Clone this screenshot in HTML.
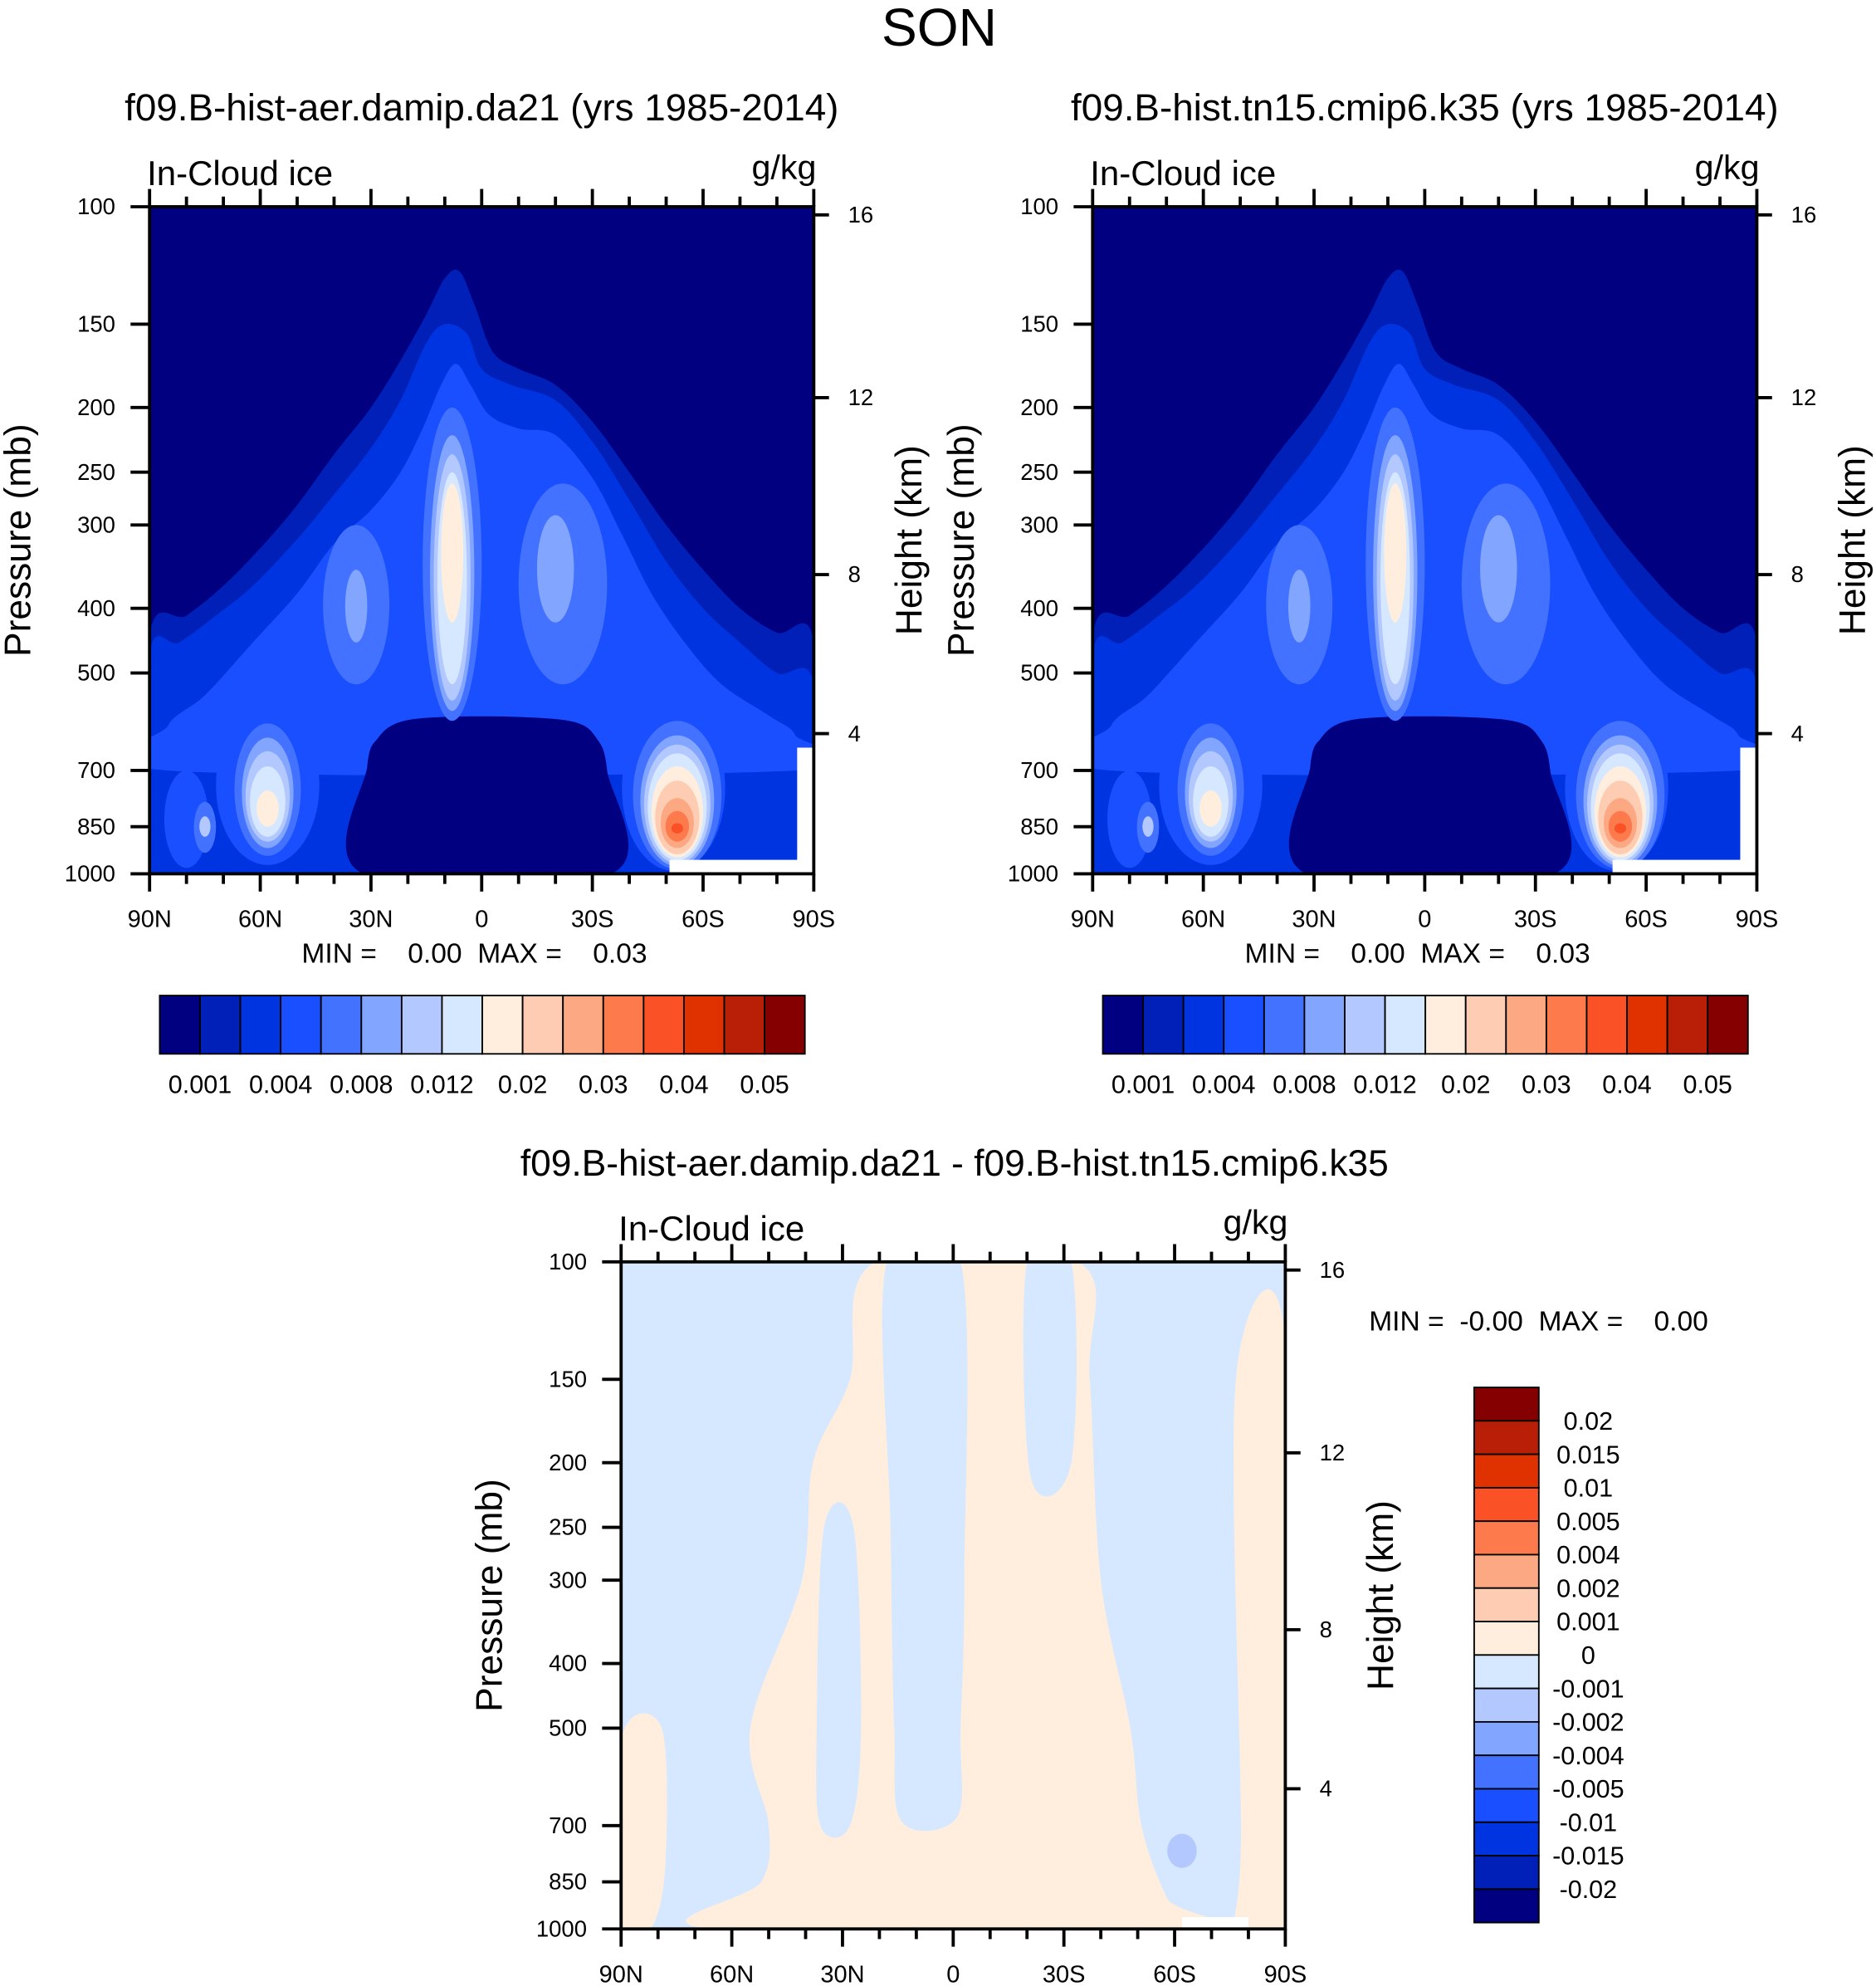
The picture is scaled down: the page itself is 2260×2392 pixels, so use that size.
<!DOCTYPE html>
<html><head><meta charset="utf-8"><style>
html,body{margin:0;padding:0;background:#fff}
svg{display:block}
text{font-family:"Liberation Sans",Arial,sans-serif;fill:#000;white-space:pre}
</style></head><body>
<svg id="root" width="2260" height="2392" viewBox="0 0 1480 1566" preserveAspectRatio="none" xmlns="http://www.w3.org/2000/svg">
<text x="741" y="36" font-size="42" text-anchor="middle">SON</text>
</svg>
<script>
// ===== data =====
const colors=["#000080","#0020b8","#0034e0","#1a4fff","#4272ff","#82a6ff","#b2c8ff","#d6e8ff","#ffeedd","#fdccb2","#fca882","#fc7a4c","#fa5226","#e03200","#b81f06","#850000"];
const pressureTicks=[100,150,200,250,300,400,500,700,850,1000];
const heightTicks=[4,8,12,16];
const latTicks=[90,60,30,0,-30,-60,-90];
const latLabels=["90N","60N","30N","0","30S","60S","90S"];
const topBarLabels=["0.001","0.004","0.008","0.012","0.02","0.03","0.04","0.05"];
const diffBarLabels=["0.02","0.015","0.01","0.005","0.004","0.002","0.001","0","-0.001","-0.002","-0.004","-0.005","-0.01","-0.015","-0.02"];
// contour polygons: [lat,p]
const polyLevel1=[[90,440],[80,410],[70,370],[60,325],[50,280],[40,235],[30,200],[22,170],[15,145],[10,128],[6,125],[2,140],[-3,165],[-10,175],[-20,185],[-30,210],[-40,250],[-50,300],[-60,350],[-70,400],[-80,435],[-90,450],[-90,1000],[90,1000]];
const polyLevel2=[[90,470],[82,450],[72,410],[62,370],[50,315],[40,270],[30,230],[22,195],[15,160],[10,150],[4,155],[0,175],[-8,185],[-20,195],[-30,225],[-40,275],[-50,340],[-60,400],[-70,450],[-80,500],[-90,520],[-90,1000],[90,1000]];
const polyLevel3=[[85,600],[75,540],[62,450],[50,380],[40,320],[30,285],[22,250],[16,215],[11,185],[7,172],[3,185],[-2,205],[-10,215],[-20,220],[-30,255],[-38,310],[-46,380],[-55,450],[-65,520],[-78,580],[-85,620],[-85,700],[85,700]];
const polyHole=[[32,1000],[31,690],[28,625],[22,592],[10,582],[-10,582],[-25,592],[-31,625],[-34,700],[-35,1000]];
// ellipse blobs: [level, lat, halfWidthDeg, pTop, pBottom]
const blobsA=[
 [3,58,14,560,970],[3,-52,14,560,990],[3,80,6,700,980],
 [4,34,9,300,520],[4,8,8,200,590],[4,-22,12,260,520],[4,58,9,595,940],[4,-53,12,590,985],[4,75,3,780,930],
 [5,8,6,220,570],[5,58,7,625,915],[5,-53,10,620,975],[5,-20,5,290,420],[5,34,3,350,450],[6,75,1.5,820,880],
 [6,8,5,235,550],[6,58,6,655,895],[6,-53,9,640,965],
 [7,8,4,250,520],[7,58,4.8,690,880],[7,-53,8,660,955],
 [8,8,3,260,420],[8,58,3,750,850],[8,-53,7,690,945],
 [9,-53,6,725,935],[10,-53,4.5,770,915],[11,-53,3.2,805,895],[12,-53,1.6,840,870]];
// bottom difference panel regions
const diffCream=[[21,100],[-33.7,100],[-37,150],[-40,300],[-48,500],[-51,700],[-58,900],[-64.6,1000],[66,1000],[52,850],[50,700],[55,500],[41,300],[38,200],[28,150]];
const diffBlue=[[[18,100],[-2,100],[-3,300],[-2,500],[-1,680],[14,690],[16,500],[17,250]],[[-20,100],[-32,100],[-32,200],[-21,210]],[[35,250],[27,250],[25,500],[28,700],[36,700],[37,500]]];
const diffCream2=[[[90,520],[79,500],[78,800],[82,1000],[90,1000]],[[-76.6,150],[-90,130],[-90,1000],[-77,1000],[-78,700]]];
const diffBlob=[[6,-62,4,720,810]];

const NS="http://www.w3.org/2000/svg";
const root=document.getElementById('root');
function mk(tag,attrs,parent){const e=document.createElementNS(NS,tag);for(const k in attrs)e.setAttribute(k,attrs[k]);(parent||root).appendChild(e);return e;}
function txt(s,x,y,size,anchor,parent){const t=mk('text',{x:x,y:y,'font-size':size,'text-anchor':anchor||'start'},parent);t.textContent=s;return t;}
function stdP(hkm){const h=hkm*1000;if(h<=11000)return 1013.25*Math.pow(1-2.25577e-5*h,5.25588);return 226.32*Math.exp(-0.0001577*(h-11000));}
function smooth(pts){let d='';const n=pts.length;for(let i=0;i<n;i++){const p0=pts[(i-1+n)%n],p1=pts[i],p2=pts[(i+1)%n],p3=pts[(i+2)%n];if(i===0)d+='M'+p1[0]+','+p1[1];const c1=[p1[0]+(p2[0]-p0[0])/6,p1[1]+(p2[1]-p0[1])/6],c2=[p2[0]-(p3[0]-p1[0])/6,p2[1]-(p3[1]-p1[1])/6];d+='C'+c1+' '+c2+' '+p2;}return d+'Z';}

function panel(ox,oy,id,opts){
 const W=524,H=526;
 const X=lat=>ox+(90-lat)/180*W;
 const Y=p=>oy+Math.log10(p/100)*H;
 const g=mk('g',{});
 
 
 const cp=mk('clipPath',{id:'clip-'+id},g);mk('rect',{x:ox,y:oy,width:W,height:H},cp);
 const plot=mk('g',{'clip-path':'url(#clip-'+id+')'},g);
 
 
 const poly=(pts,lev)=>{const e=mk('path',{d:smooth(pts.map(q=>[X(q[0]),Y(q[1])])),fill:colors[lev]},plot);return e;};
 const blob=b=>{const [lev,lat,w,pt,pb]=b;const cx=X(lat),y1=Y(pt),y2=Y(pb);const e=mk('ellipse',{cx:cx,cy:(y1+y2)/2,rx:Math.abs(X(lat+w)-cx),ry:(y2-y1)/2,fill:colors[lev]},plot);};
 if(opts.diff){
  mk('rect',{x:ox,y:oy,width:W,height:H,fill:colors[7]},plot);
  poly(diffCream,8);diffBlue.forEach(b=>poly(b,7));diffCream2.forEach(b=>poly(b,8));diffBlob.forEach(blob);
  mk('rect',{x:X(-62),y:Y(960),width:X(-80)-X(-62),height:Y(1000)-Y(960),fill:'#fff'},plot);
 }else{
  mk('rect',{x:ox,y:oy,width:W,height:H,fill:colors[0]},plot);
  poly(polyLevel1,1);poly(polyLevel2,2);poly(polyLevel3,3);poly(polyHole,0);
  blobsA.slice().sort((a,b)=>a[0]-b[0]).forEach(blob);
  mk('rect',{x:X(-85.5),y:Y(647),width:X(-90)-X(-85.5)+1,height:Y(1000)-Y(647),fill:'#fff'},plot);
  mk('rect',{x:X(-50.9),y:Y(953),width:X(-90)-X(-50.9)+1,height:Y(1000)-Y(953),fill:'#fff'},plot);
 }
 mk('rect',{x:ox,y:oy,width:W,height:H,fill:'none',stroke:'#000','stroke-width':2.5},g);
 const ax=mk('g',{stroke:'#000','stroke-width':2.5},g);
 pressureTicks.forEach(p=>{mk('line',{x1:ox-15,x2:ox,y1:Y(p),y2:Y(p)},ax);const t=txt(String(p),ox-27,Y(p)+6,18,'end',g);});
 heightTicks.forEach(h=>{const y=Y(stdP(h));mk('line',{x1:ox+W,x2:ox+W+12,y1:y,y2:y},ax);const t=txt(String(h),ox+W+27,y+6,18,'start',g);});
 for(let lat=90;lat>=-90;lat-=10){const major=lat%30===0;const L=major?14:8;mk('line',{x1:X(lat),x2:X(lat),y1:oy,y2:oy-L},ax);mk('line',{x1:X(lat),x2:X(lat),y1:oy+H,y2:oy+H+L},ax);}
 latTicks.forEach((lat,i)=>{const t=txt(latLabels[i],X(lat),oy+H+42,19,'middle',g);});
 let t=txt('Pressure (mb)',0,0,29,'middle',g);t.setAttribute('transform','translate('+(ox-94)+','+(oy+263)+') rotate(-90)');
 t=txt('Height (km)',0,0,29,'middle',g);t.setAttribute('transform','translate('+(ox+W+85)+','+(oy+263)+') rotate(-90)');
 t=txt('In-Cloud ice',ox-2,oy-17,27.5,'start',g);
 t=txt('g/kg',ox+W+2,oy-22,27,'end',g);
 if(opts.title){t=txt(opts.title,ox+262,oy-68,30,'middle',g);}
 return g;
}
function hbar(x0,y0){const g=mk('g',{});const w=509/16;colors.forEach((c,i)=>{const r=mk('rect',{x:x0+i*w,y:y0,width:w,height:46,fill:c,stroke:'#000','stroke-width':1.2},g);});topBarLabels.forEach((s,k)=>{const t=txt(s,x0+(2*k+1)*w,y0+77,20,'middle',g);});}
function vbar(x0,y0){const g=mk('g',{});const h=422/16;colors.slice().reverse().forEach((c,i)=>{const r=mk('rect',{x:x0,y:y0+i*h,width:51,height:h,fill:c,stroke:'#000','stroke-width':1.2},g);});diffBarLabels.forEach((s,k)=>{const t=txt(s,x0+90,y0+(k+1)*h+7,20,'middle',g);});}

panel(118,163,'left',{title:'f09.B-hist-aer.damip.da21 (yrs 1985-2014)'});
panel(862,163,'right',{title:'f09.B-hist.tn15.cmip6.k35 (yrs 1985-2014)'});
panel(490,995,'diff',{diff:true,title:''});
let t=txt('f09.B-hist-aer.damip.da21 - f09.B-hist.tn15.cmip6.k35',753,927,29,'middle');
t=txt('MIN =    0.00  MAX =    0.03',238,759,22,'start');
t=txt('MIN =    0.00  MAX =    0.03',982,759,22,'start');
t=txt('MIN =  -0.00  MAX =    0.00',1080,1049,22,'start');
hbar(126,785);hbar(870,785);vbar(1163,1094);
</script>
</body></html>
